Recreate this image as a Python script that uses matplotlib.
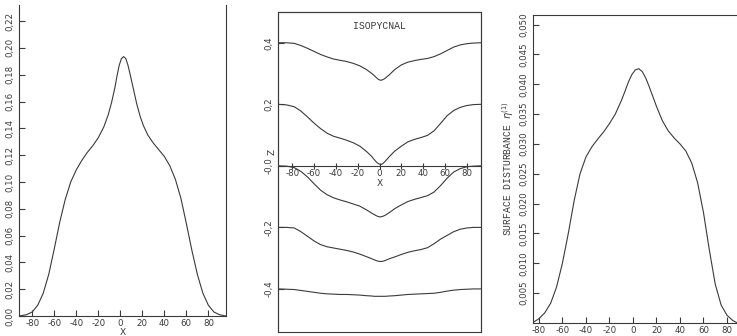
import numpy as np
import matplotlib
matplotlib.use('Agg')
import matplotlib.pyplot as plt
from matplotlib.patches import Rectangle

# === Data ===
# left panel: interface displacement vs x
x_left = [-92, -85, -80, -75, -70, -65, -60, -55, -50, -45, -40, -35, -30, -25,
          -20, -15, -11, -8, -5, -3, -1, 1, 3, 5, 7, 9, 12, 15, 18, 21, 25, 30,
          35, 40, 45, 50, 55, 60, 65, 70, 75, 80, 85, 90, 96]
y_left = [0.000, 0.001, 0.003, 0.008, 0.017, 0.031, 0.050, 0.070, 0.087, 0.100,
          0.109, 0.116, 0.122, 0.127, 0.133, 0.141, 0.150, 0.159, 0.170, 0.179,
          0.187, 0.192, 0.1935, 0.192, 0.187, 0.180, 0.169, 0.158, 0.149, 0.142,
          0.135, 0.129, 0.124, 0.119, 0.112, 0.102, 0.088, 0.069, 0.049, 0.031,
          0.017, 0.008, 0.003, 0.001, 0.000]

# middle panel: isopycnals
x_iso = [-93, -85, -78, -72, -66, -60, -54, -48, -42, -36, -30, -24, -18, -12,
         -7, -5, -3, -1, 1, 3, 5, 9, 14, 20, 26, 32, 38, 44, 50, 56, 62, 68, 74,
         80, 86, 93]
z_iso_p04 = [0.400, 0.400, 0.398, 0.391, 0.382, 0.372, 0.362, 0.354, 0.347, 0.343,
             0.339, 0.333, 0.325, 0.313, 0.300, 0.294, 0.287, 0.281, 0.278, 0.280,
             0.284, 0.296, 0.313, 0.328, 0.337, 0.342, 0.346, 0.349, 0.355, 0.364,
             0.375, 0.386, 0.393, 0.397, 0.399, 0.400]
z_iso_p02 = [0.200, 0.198, 0.192, 0.178, 0.159, 0.139, 0.121, 0.106, 0.096, 0.090,
             0.083, 0.075, 0.064, 0.047, 0.030, 0.021, 0.013, 0.007, 0.004, 0.007,
             0.014, 0.030, 0.048, 0.064, 0.078, 0.086, 0.092, 0.099, 0.114, 0.138,
             0.163, 0.180, 0.190, 0.196, 0.199, 0.200]
z_iso_00 = [0.000, -0.001, -0.006, -0.018, -0.036, -0.058, -0.079, -0.094, -0.104,
            -0.111, -0.117, -0.124, -0.131, -0.143, -0.154, -0.158, -0.162, -0.165,
            -0.166, -0.164, -0.161, -0.152, -0.139, -0.127, -0.116, -0.109, -0.103,
            -0.097, -0.085, -0.064, -0.040, -0.020, -0.009, -0.003, -0.001, 0.000]
z_iso_m02 = [-0.200, -0.200, -0.202, -0.214, -0.229, -0.244, -0.256, -0.263, -0.267,
             -0.271, -0.275, -0.280, -0.287, -0.295, -0.302, -0.305, -0.308, -0.310,
             -0.311, -0.310, -0.308, -0.302, -0.296, -0.288, -0.281, -0.276, -0.272,
             -0.266, -0.253, -0.238, -0.226, -0.214, -0.206, -0.202, -0.200, -0.200]
z_iso_m04 = [-0.400, -0.401, -0.402, -0.405, -0.408, -0.411, -0.414, -0.416, -0.417,
             -0.418, -0.418, -0.419, -0.420, -0.422, -0.423, -0.424, -0.424, -0.424,
             -0.424, -0.424, -0.424, -0.423, -0.422, -0.420, -0.418, -0.417, -0.416,
             -0.415, -0.414, -0.411, -0.407, -0.404, -0.402, -0.401, -0.400, -0.400]

# right panel: surface disturbance
x_surf = [-85, -80, -75, -70, -65, -60, -55, -50, -45, -40, -35, -30, -25, -20,
          -15, -10, -7, -4, -1, 2, 5, 8, 11, 14, 17, 20, 25, 30, 35, 40, 45, 50,
          55, 60, 65, 70, 75, 80, 85, 88]
y_surf = [0.0001, 0.0007, 0.0017, 0.0033, 0.0060, 0.0100, 0.0150, 0.0205, 0.0250,
          0.0278, 0.0295, 0.0308, 0.0320, 0.0334, 0.0350, 0.0372, 0.0387, 0.0403,
          0.0416, 0.0424, 0.0426, 0.0421, 0.0410, 0.0395, 0.0379, 0.0363, 0.0339,
          0.0322, 0.0310, 0.0300, 0.0288, 0.0268, 0.0235, 0.0185, 0.0122, 0.0065,
          0.0030, 0.0013, 0.0004, 0.0001]

x_ticks = [-80, -60, -40, -20, 0, 20, 40, 60, 80]
x_labels = ['-80', '-60', '-40', '-20', '0', '20', '40', '60', '80']
left_yticks = [0.00, 0.02, 0.04, 0.06, 0.08, 0.10, 0.12, 0.14, 0.16, 0.18, 0.20, 0.22]
left_ylabels = ['0,00', '0,02', '0,04', '0,06', '0,08', '0,10', '0,12', '0,14',
                '0,16', '0,18', '0,20', '0,22']
mid_yticks = [0.4, 0.2, 0.0, -0.2, -0.4]
mid_ylabels = ['0,4', '0,2', '-0,0', '-0,2', '-0,4']
right_yticks = [0.005, 0.010, 0.015, 0.020, 0.025, 0.030, 0.035, 0.040, 0.045, 0.050]
right_ylabels = ['0,005', '0,010', '0,015', '0,020', '0,025', '0,030', '0,035',
                 '0,040', '0,045', '0,050']

INK = '#3a3a3a'
LW = 0.8
TICKFONT = dict(family='DejaVu Sans', size=6.2)
MONO = 'Liberation Mono'

plt.rcParams['axes.linewidth'] = LW
plt.rcParams['axes.edgecolor'] = INK

fig = plt.figure(figsize=(7.37, 3.36), dpi=100)


def style_ticks(ax, yticks, ylabels, ypad=3.5, xpad=2.0, xdir='in'):
    ax.set_xticks(x_ticks, labels=x_labels)
    ax.set_yticks(yticks, labels=ylabels)
    ax.tick_params(axis='y', direction='in', length=4, width=LW, color=INK,
                   pad=ypad, labelcolor=INK)
    ax.tick_params(axis='x', direction=xdir, length=4, width=LW, color=INK,
                   pad=xpad, labelcolor=INK)
    for lab in ax.get_yticklabels():
        lab.set_rotation(90)
        lab.set_va('center')
        lab.set_fontproperties(TICKFONT)
    for lab in ax.get_xticklabels():
        lab.set_fontproperties(TICKFONT)


# --- left panel ---
ax1 = fig.add_axes([19 / 737, 20 / 336, 207 / 737, 311 / 336])
ax1.plot(x_left, y_left, color=INK, linewidth=LW)
ax1.set_xlim(-92, 96)
ax1.set_ylim(0, 0.232)
ax1.spines['top'].set_visible(False)
style_ticks(ax1, left_yticks, left_ylabels)
ax1.set_xlabel('X', fontsize=6.5, color=INK, labelpad=0.5)

# --- middle panel ---
ax2 = fig.add_axes([278 / 737, 4 / 336, 203 / 737, 320 / 336])
for z in [z_iso_p04, z_iso_p02, z_iso_00, z_iso_m02, z_iso_m04]:
    ax2.plot(x_iso, z, color=INK, linewidth=LW)
ax2.set_xlim(-93, 93)
ax2.set_ylim(-0.54, 0.5)
ax2.spines['bottom'].set_position(('data', 0))
ax2.add_patch(Rectangle((0, 0), 1, 1, transform=ax2.transAxes, fill=False,
                        edgecolor=INK, linewidth=LW, clip_on=False))
style_ticks(ax2, mid_yticks, mid_ylabels, xdir='inout', xpad=0.5)
ax2.text(0, -0.058, 'X', ha='center', va='center', fontsize=6.5, color=INK)
ax2.text(-0.028, 0.045, 'Z', transform=ax2.get_yaxis_transform(), ha='center',
         va='center', rotation=90, fontsize=6.5, color=INK)
ax2.text(0.0, 0.455, 'ISOPYCNAL', ha='center', va='center', family=MONO,
         fontsize=7, color=INK)

# --- right panel ---
ax3 = fig.add_axes([533 / 737, 13 / 336, 204 / 737, 308 / 336])
ax3.plot(x_surf, y_surf, color=INK, linewidth=LW)
ax3.set_xlim(-85, 88.5)
ax3.set_ylim(0, 0.0516)
ax3.spines['right'].set_visible(False)
style_ticks(ax3, right_yticks, right_ylabels)
ax3.set_ylabel('SURFACE DISTURBANCE $\\eta^{(1)}$', family=MONO, fontsize=7,
               color=INK, labelpad=2)

fig.savefig('out.png', dpi=100, facecolor='white')
